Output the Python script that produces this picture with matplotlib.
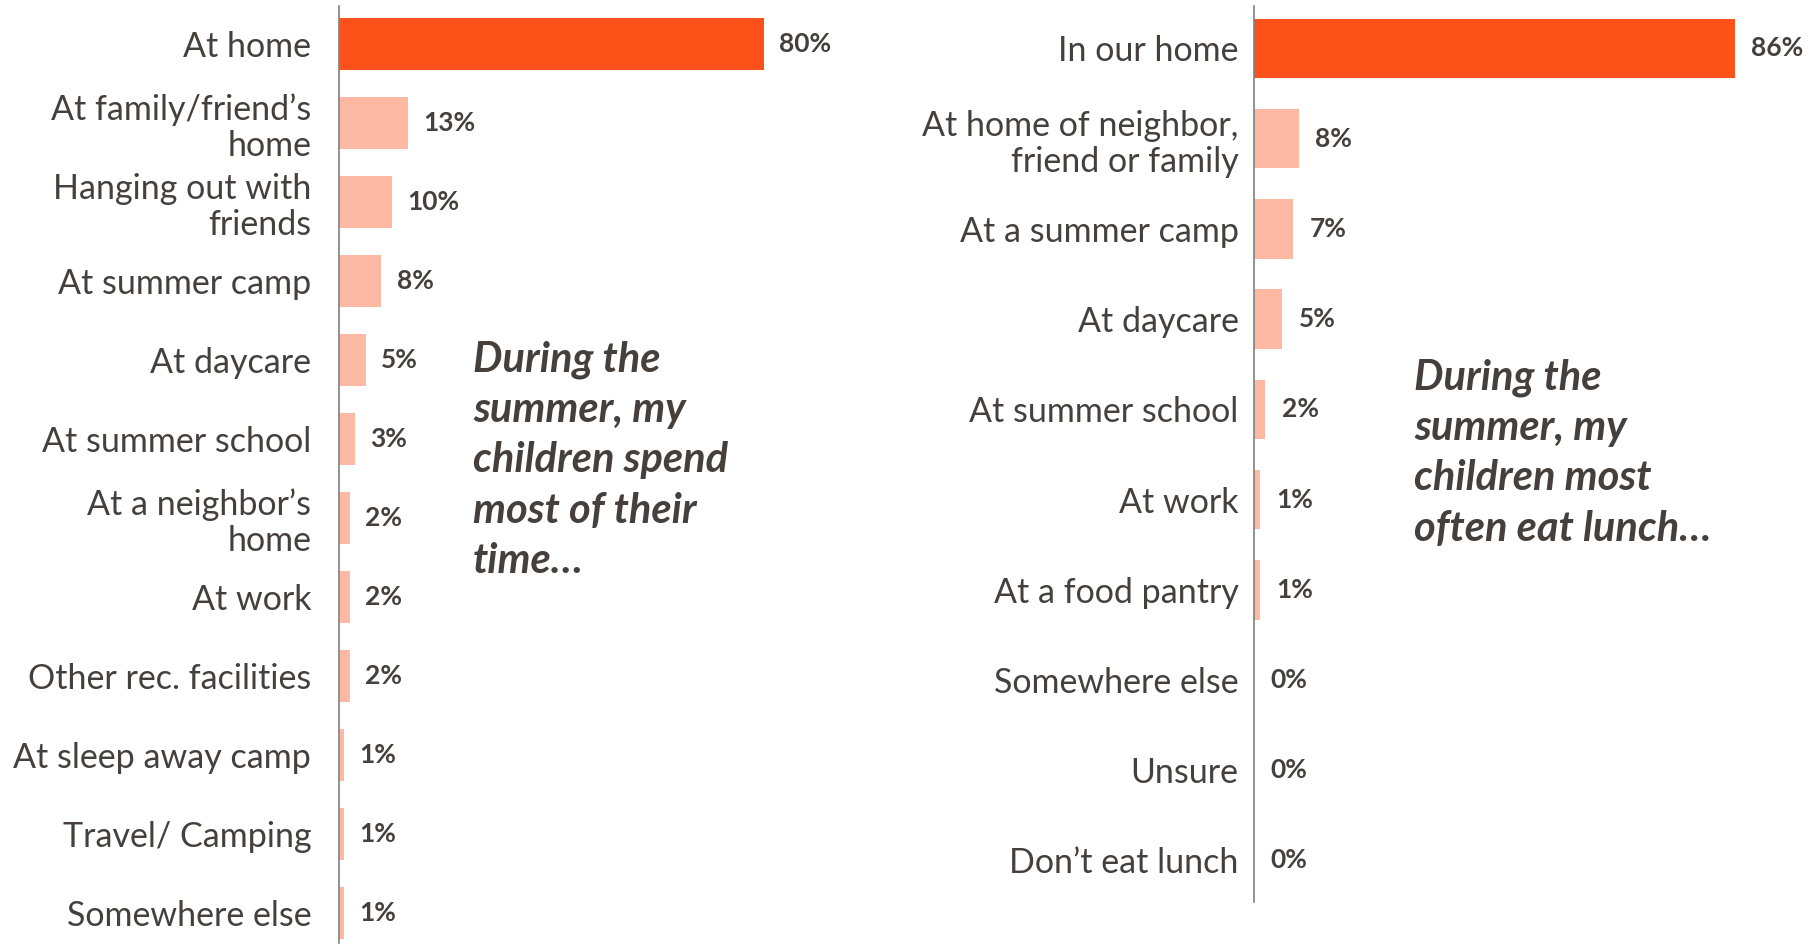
import matplotlib
matplotlib.use("Agg")
import matplotlib.pyplot as plt

TEXT_COLOR = "#45403c"
DARK_ORANGE = "#fc5119"
LIGHT_ORANGE = "#fdb9a3"
AXIS_COLOR = "#808080"
FONT = ["Lato", "DejaVu Sans"]

time_labels = ["At home", "At family/friend\u2019s\nhome", "Hanging out with\nfriends",
               "At summer camp", "At daycare", "At summer school",
               "At a neighbor\u2019s\nhome", "At work", "Other rec. facilities",
               "At sleep away camp", "Travel/ Camping", "Somewhere else"]
time_values = [80, 13, 10, 8, 5, 3, 2, 2, 2, 1, 1, 1]

lunch_labels = ["In our home", "At home of neighbor,\nfriend or family", "At a summer camp",
                "At daycare", "At summer school", "At work", "At a food pantry",
                "Somewhere else", "Unsure", "Don\u2019t eat lunch"]
lunch_values = [86, 8, 7, 5, 2, 1, 1, 0, 0, 0]

time_note = "During the\nsummer, my\nchildren spend\nmost of their\ntime\u2026"
lunch_note = "During the\nsummer, my\nchildren most\noften eat lunch\u2026"

plt.rcParams["font.family"] = FONT


def draw_panel(ax, labels, values, ylim, label_pad, value_gap):
    """Горизонтальные полосы, первая выделена тёмным цветом."""
    colors = [DARK_ORANGE] + [LIGHT_ORANGE] * (len(values) - 1)
    positions = list(range(len(values)))
    ax.barh(positions, values, height=0.66, color=colors)
    ax.set_xlim(0, 100)
    ax.set_ylim(*ylim)
    ax.set_yticks(positions)
    ax.set_yticklabels(labels, fontsize=24.5, color=TEXT_COLOR,
                       linespacing=1.15, ha="right")
    ax.tick_params(axis="y", length=0, pad=label_pad)
    ax.set_xticks([])
    for side in ["top", "right", "bottom"]:
        ax.spines[side].set_visible(False)
    ax.spines["left"].set_color(AXIS_COLOR)
    ax.spines["left"].set_linewidth(1.2)
    for pos, val in zip(positions, values):
        ax.annotate(f"{val}%", xy=(val, pos), xytext=(value_gap, 0),
                    textcoords="offset points", va="center", ha="left",
                    fontsize=19, fontweight="bold", color=TEXT_COLOR,
                    annotation_clip=False)


fig = plt.figure(figsize=(18.2, 9.46), dpi=100)

ax_left = fig.add_axes([339 / 1820, 3 / 946, 531 / 1820, 937 / 946])
draw_panel(ax_left, time_labels, time_values, (11.38, -0.48), 20, 11)
ax_left.text(473 / 1820, 1 - 340 / 946, time_note, transform=fig.transFigure,
             fontsize=30, fontweight="bold", fontstyle="italic",
             color=TEXT_COLOR, va="top", ha="left", linespacing=1.4)

ax_right = fig.add_axes([1254 / 1820, 44 / 946, 559 / 1820, 896 / 946])
draw_panel(ax_right, lunch_labels, lunch_values, (9.46, -0.47), 11, 12)
ax_right.text(1414 / 1820, 1 - 358 / 946, lunch_note, transform=fig.transFigure,
              fontsize=30, fontweight="bold", fontstyle="italic",
              color=TEXT_COLOR, va="top", ha="left", linespacing=1.4)

fig.savefig("out.png", dpi=100)
